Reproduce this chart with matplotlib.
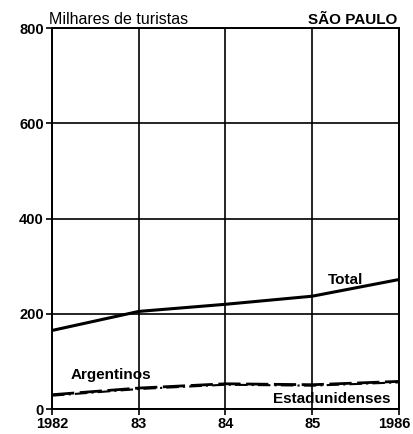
import matplotlib
matplotlib.use("Agg")
import matplotlib.pyplot as plt
import matplotlib.transforms as mtransforms

years = [1982, 1983, 1984, 1985, 1986]
xticklabels = ["1982", "83", "84", "85", "1986"]
total = [165, 205, 220, 237, 272]
argentinos = [30, 44, 53, 51, 58]
estadunidenses = [28, 42, 51, 49, 56]
yticks = [0, 200, 400, 600, 800]

plt.rcParams['font.family'] = ['Liberation Sans', 'DejaVu Sans']

fig = plt.figure(figsize=(4.13, 4.34), dpi=100)
ax = fig.add_axes([0.126, 0.0576, 0.840, 0.8774])
ax.set_xlim(1982, 1986)
ax.set_ylim(0, 800)

ax.set_xticks(years)
ax.set_xticklabels(xticklabels, fontsize=10.5, fontweight='bold')
ax.set_yticks(yticks)
ax.set_yticklabels([str(v) for v in yticks], fontsize=10.5, fontweight='bold')
ax.tick_params(axis='both', length=4, width=1.2, color='black', pad=2)

# nudge the last x label so it stays inside the figure
last = ax.get_xticklabels()[-1]
last.set_transform(last.get_transform() + mtransforms.ScaledTranslation(-5/100, 0, fig.dpi_scale_trans))

for s in ax.spines.values():
    s.set_linewidth(1.4)
    s.set_color('black')

ax.grid(True, color='black', linewidth=1.2)
ax.set_axisbelow(True)

ax.plot(years, total, color='black', linewidth=2.2)
ax.plot(years, argentinos, color='black', linewidth=2.0, linestyle=(0, (8, 2)))
ax.plot(years, estadunidenses, color='black', linewidth=1.5, linestyle=(0, (6, 2, 1, 2)))

ax.text(1985.59, 272, "Total", fontsize=11, fontweight='bold', ha='right', va='center')
ax.text(1982.21, 71, "Argentinos", fontsize=11, fontweight='bold', ha='left', va='center')
ax.text(1985.9, 21, "Estadunidenses", fontsize=11, fontweight='bold', ha='right', va='center')

ax.text(-0.01, 1.004, "Milhares de turistas", transform=ax.transAxes, fontsize=11.5,
        ha='left', va='bottom')
ax.text(0.995, 1.004, "SÃO PAULO", transform=ax.transAxes, fontsize=11,
        fontweight='bold', ha='right', va='bottom')

fig.savefig("out.png", dpi=100, facecolor='white')
